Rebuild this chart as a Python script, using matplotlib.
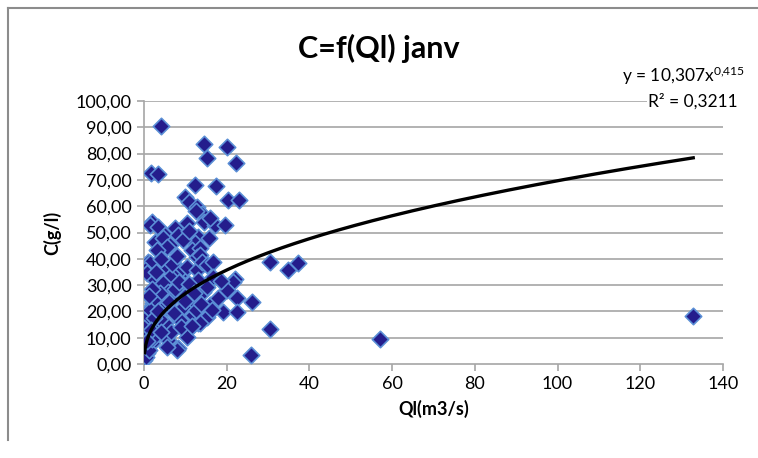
import numpy as np
import matplotlib.pyplot as plt
from matplotlib.lines import Line2D

# débit Ql (m3/s) et concentration C (g/l), janvier
ql = [4.0, 14.5, 20.0, 15.3, 22.2, 1.6, 3.5, 12.3, 17.4, 9.9, 20.3, 23.0, 11.0, 12.8, 14.0,
      1.9, 1.5, 3.4, 5.1, 7.5, 8.2, 10.4, 14.5, 17.2, 19.6, 13.0, 12.3, 2.7, 4.6, 6.3,
      5.6, 3.1, 11.6, 13.5, 12.8, 13.5, 1.0, 1.5, 0.3, 0.7, 5.8, 9.9, 8.7, 10.4, 12.8,
      14.0, 15.2, 16.7, 16.7, 30.5, 34.8, 37.2, 22.0, 21.5,
      2.7, 7.0, 6.3, 4.6, 13.0, 9.4, 5.8, 3.4, 3.9, 2.2, 2.2, 7.0, 14.3, 15.2, 20.0,
      22.5, 26.0, 11.8, 9.4, 16.0, 19.1, 22.5, 1.0, 1.5, 4.4, 8.2, 11.8, 15.2, 8.7,
      0.0, 5.1, 13.0, 13.5, 0.0, 10.6, 30.5, 2.7, 0.2, 10.4, 5.8, 1.9, 0.0, 8.2, 8.0,
      0.7, 0.0, 25.8, 57.1, 132.8,
      0.5, 1.2, 2.0, 3.0, 3.8, 4.8, 6.0, 7.5, 8.5, 10.0, 11.0, 12.0, 6.5, 7.2, 9.0,
      11.5, 12.5, 2.5, 3.5, 1.8, 0.8, 4.0, 5.5, 9.8, 13.8, 16.5, 17.8, 18.5, 6.8, 8.0,
      4.2, 9.5, 11.0, 15.8, 16.0, 12.5, 3.0, 2.0, 1.2]
conc = [90.5, 83.5, 82.5, 78.3, 76.5, 72.8, 72.3, 68.0, 67.5, 63.5, 62.5, 62.3, 61.6, 59.7, 57.0,
        54.0, 52.8, 52.0, 49.0, 51.7, 49.0, 53.6, 54.0, 52.8, 53.0, 48.3, 46.0, 46.4, 47.9, 45.2,
        44.5, 43.3, 43.3, 44.0, 40.7, 41.4, 38.8, 38.4, 35.7, 34.6, 36.5, 35.7, 35.7, 36.9, 35.7,
        38.8, 37.6, 38.8, 33.1, 38.8, 35.7, 38.4, 32.5, 31.2,
        32.0, 33.8, 33.1, 30.8, 32.0, 29.0, 27.4, 25.5, 27.0, 23.2, 24.3, 25.5, 27.4, 29.3, 28.1,
        25.1, 23.6, 23.2, 21.7, 22.4, 19.8, 19.8, 20.5, 20.5, 19.4, 17.9, 18.6, 17.9, 16.7,
        16.7, 15.6, 15.6, 15.6, 13.7, 12.9, 13.3, 11.8, 10.3, 10.3, 9.0, 8.0, 6.5, 6.0, 5.3,
        4.2, 1.5, 3.4, 9.5, 18.2,
        2.5, 5.5, 9.5, 14.0, 17.0, 21.5, 23.5, 28.5, 31.0, 26.0, 30.5, 27.0, 12.0, 19.5, 14.0,
        14.5, 20.5, 17.5, 20.0, 13.0, 8.8, 12.0, 6.5, 24.0, 23.0, 20.5, 25.0, 31.5, 38.0, 41.0,
        40.0, 47.0, 50.5, 48.0, 55.5, 58.0, 35.0, 28.5, 26.0]

# courbe de tendance puissance
coef_a = 10.307
coef_b = 0.415

yticks = np.arange(0, 101, 10)
ytick_labels = [f"{v:.2f}".replace(".", ",") for v in yticks]
xticks = np.arange(0, 141, 20)

plt.rcParams["font.family"] = ["Lato", "DejaVu Sans"]
plt.rcParams["mathtext.fontset"] = "custom"
plt.rcParams["mathtext.rm"] = "Lato"
plt.rcParams["mathtext.it"] = "Lato"
plt.rcParams["mathtext.default"] = "regular"

fig = plt.figure(figsize=(7.58, 4.58), dpi=100)

# cadre du graphique
fig.add_artist(Line2D([8 / 758, 8 / 758], [1 - 8 / 458, 0.04], transform=fig.transFigure,
                      color="#8c8c8c", lw=1.5))
fig.add_artist(Line2D([8 / 758, 1.0], [1 - 8 / 458, 1 - 8 / 458], transform=fig.transFigure,
                      color="#8c8c8c", lw=1.5))

ax = fig.add_axes([144 / 758, 1 - 364 / 458, (723 - 144) / 758, (364 - 101) / 458])

for v in yticks[1:]:
    ax.axhline(v, color="#a6a6a6", lw=1.2, zorder=0)

ax.scatter(ql, conc, marker="D", s=70, facecolor="#241d8c", edgecolor="#5b8fd6",
           linewidths=1.2, zorder=3)

xs = np.linspace(0.12, max(ql), 400)
ax.plot(xs, coef_a * xs ** coef_b, color="black", lw=2.4, zorder=4)

ax.set_xlim(0, 140)
ax.set_ylim(0, 100)
ax.set_xticks(xticks)
ax.set_yticks(yticks)
ax.set_yticklabels(ytick_labels)
ax.tick_params(axis="both", labelsize=13, color="#a6a6a6", length=5, width=1.2)
ax.tick_params(axis="y", pad=4)

for side in ["top", "right"]:
    ax.spines[side].set_visible(False)
for side in ["left", "bottom"]:
    ax.spines[side].set_color("#a6a6a6")
    ax.spines[side].set_linewidth(1.2)

ax.set_xlabel("Ql(m3/s)", fontsize=13, fontweight="bold", labelpad=6)
ax.set_ylabel("C(g/l)", fontsize=13, fontweight="bold", labelpad=10)

fig.text(379 / 758, 1 - 48 / 458, "C=f(Ql) janv", ha="center", va="center",
         fontsize=22, fontweight="bold")

fig.text(745 / 758, 1 - 76 / 458, r"y = 10,307x$^{0{,}415}$", ha="right", va="center",
         fontsize=12.5)
fig.text(738 / 758, 1 - 101 / 458, "R² = 0,3211", ha="right", va="center", fontsize=12.5,
         bbox=dict(facecolor="white", edgecolor="none", pad=1))

fig.savefig("out.png", dpi=100)
